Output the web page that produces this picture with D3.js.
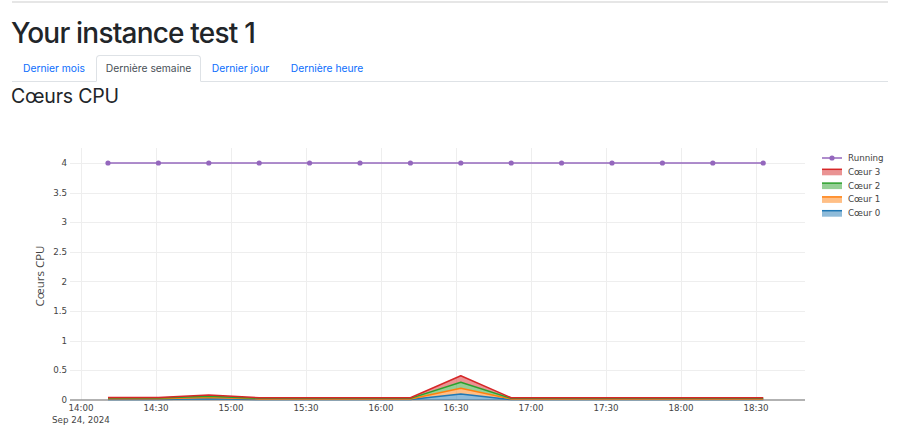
<!DOCTYPE html>
<html>
<head>
<meta charset="utf-8">
<script src="https://cdn.jsdelivr.net/npm/d3@7"></script>
<style>
  html, body { margin: 0; padding: 0; background: #fff; width: 900px; height: 432px; overflow: hidden; }
  body { position: relative; font-family: Inter, "Liberation Sans", Arial, sans-serif; color: #212529; }
  .hr { position: absolute; left: 12px; top: 1px; width: 876px; height: 0; border-top: 2px solid #e6e6e6; }
  h1 { position: absolute; left: 11px; top: 15px; margin: 0; font-size: 28px; font-weight: 500; line-height: 36px; letter-spacing: -0.8px; }
  .tabs { position: absolute; left: 12px; top: 55px; width: 876px; height: 26px; border-bottom: 1px solid #dee2e6; }
  .tab { position: absolute; top: 0; height: 26px; line-height: 27px; font-size: 10.3px; color: #0d6efd; text-align: center; box-sizing: border-box; }
  .tab.active { color: #495057; border: 1px solid #dee2e6; border-bottom: 1px solid #fff; border-radius: 4px 4px 0 0; background: #fff; height: 27px; line-height: 25px; }
  h3 { position: absolute; left: 11px; top: 83px; margin: 0; font-size: 19.5px; font-weight: 400; line-height: 26px; letter-spacing: -0.2px; }
  svg { position: absolute; left: 0; top: 0; }
</style>
</head>
<body>
<div class="hr"></div>
<h1>Your instance test 1</h1>
<div class="tabs" id="tabs"></div>
<h3>Cœurs CPU</h3>
<svg id="chart" width="900" height="432"></svg>
<script>
// ---- Data ----
const tabLabels = ["Dernier mois", "Dernière semaine", "Dernier jour", "Dernière heure"];
const activeTab = "Dernière semaine";

const times = ["2024-09-24T14:10:48", "2024-09-24T14:30:58", "2024-09-24T14:51:07", "2024-09-24T15:11:17",
               "2024-09-24T15:31:26", "2024-09-24T15:51:36", "2024-09-24T16:11:46", "2024-09-24T16:31:55",
               "2024-09-24T16:52:05", "2024-09-24T17:12:14", "2024-09-24T17:32:24", "2024-09-24T17:52:34",
               "2024-09-24T18:12:43", "2024-09-24T18:32:53"];
const running = [4, 4, 4, 4, 4, 4, 4, 4, 4, 4, 4, 4, 4, 4];
const coeur0 = [0.010, 0.010, 0.020, 0.008, 0.008, 0.008, 0.008, 0.100, 0.008, 0.008, 0.008, 0.008, 0.008, 0.008];
const coeur1 = [0.012, 0.012, 0.022, 0.010, 0.010, 0.010, 0.010, 0.100, 0.010, 0.010, 0.010, 0.010, 0.010, 0.010];
const coeur2 = [0.012, 0.012, 0.022, 0.010, 0.010, 0.010, 0.010, 0.100, 0.010, 0.010, 0.010, 0.010, 0.010, 0.010];
const coeur3 = [0.010, 0.010, 0.020, 0.010, 0.010, 0.010, 0.010, 0.110, 0.010, 0.010, 0.010, 0.010, 0.010, 0.010];
const coreSeries = [
  { name: "Cœur 0", values: coeur0, color: "#1f77b4" },
  { name: "Cœur 1", values: coeur1, color: "#ff7f0e" },
  { name: "Cœur 2", values: coeur2, color: "#2ca02c" },
  { name: "Cœur 3", values: coeur3, color: "#d62728" }
];
const runningColor = "#9467bd";
const yTicks = [0, 0.5, 1, 1.5, 2, 2.5, 3, 3.5, 4];
const xTickTimes = ["2024-09-24T14:00:00", "2024-09-24T14:30:00", "2024-09-24T15:00:00", "2024-09-24T15:30:00",
                    "2024-09-24T16:00:00", "2024-09-24T16:30:00", "2024-09-24T17:00:00", "2024-09-24T17:30:00",
                    "2024-09-24T18:00:00", "2024-09-24T18:30:00"];
const xDomain = ["2024-09-24T13:55:36", "2024-09-24T18:49:36"];
const yDomain = [0, 4.253];
const yTitle = "Cœurs CPU";

// ---- Tabs ----
const tabLeft = [0, 84, 189, 268];
const tabWidth = [84, 105, 79, 94];
d3.select("#tabs").selectAll("div").data(tabLabels).join("div")
  .attr("class", d => "tab" + (d === activeTab ? " active" : ""))
  .style("left", (d, i) => tabLeft[i] + "px")
  .style("width", (d, i) => tabWidth[i] + "px")
  .text(d => d);

// ---- Chart ----
const parse = d3.isoParse;
const plot = { left: 70, right: 805, top: 148, bottom: 400 };
const x = d3.scaleTime().domain(xDomain.map(parse)).range([plot.left, plot.right]);
const y = d3.scaleLinear().domain(yDomain).range([plot.bottom, plot.top]);
const svg = d3.select("#chart");
const tickFont = "'DejaVu Sans', Verdana, sans-serif";
const tickSize = 8.7;

// grid
svg.append("g").selectAll("line").data(yTicks.filter(v => v > 0)).join("line")
  .attr("x1", plot.left).attr("x2", plot.right)
  .attr("y1", d => Math.round(y(d)) + 0.5).attr("y2", d => Math.round(y(d)) + 0.5)
  .attr("stroke", "#eeeeee").attr("stroke-width", 1);
svg.append("g").selectAll("line").data(xTickTimes.map(parse)).join("line")
  .attr("x1", d => Math.round(x(d)) + 0.5).attr("x2", d => Math.round(x(d)) + 0.5)
  .attr("y1", plot.top).attr("y2", plot.bottom)
  .attr("stroke", "#eeeeee").attr("stroke-width", 1);

// stacked areas
const rows = times.map((t, i) => {
  const r = { t: parse(t) };
  coreSeries.forEach(s => r[s.name] = s.values[i]);
  return r;
});
const stack = d3.stack().keys(coreSeries.map(s => s.name));
const stacked = stack(rows);

// zeroline (axis)
svg.append("line").attr("x1", plot.left).attr("x2", plot.right)
  .attr("y1", y(0)).attr("y2", y(0)).attr("stroke", "#999").attr("stroke-width", 1.5);

const area = d3.area().x(d => x(d.data.t)).y0(d => y(d[0])).y1(d => y(d[1]));
const line = d3.line().x(d => x(d.data.t)).y(d => y(d[1]));
stacked.forEach((layer, k) => {
  svg.append("path").attr("d", area(layer)).attr("fill", coreSeries[k].color).attr("fill-opacity", 0.5);
});
stacked.forEach((layer, k) => {
  svg.append("path").attr("d", line(layer)).attr("fill", "none")
    .attr("stroke", coreSeries[k].color).attr("stroke-width", 1.5).attr("stroke-linejoin", "round");
});

// running line
const runData = times.map((t, i) => ({ t: parse(t), v: running[i] }));
svg.append("path").attr("d", d3.line().x(d => x(d.t)).y(d => y(d.v))(runData))
  .attr("fill", "none").attr("stroke", runningColor).attr("stroke-width", 1.5);
svg.append("g").selectAll("circle").data(runData).join("circle")
  .attr("cx", d => x(d.t)).attr("cy", d => y(d.v)).attr("r", 2.6).attr("fill", runningColor);

// y tick labels
svg.append("g").selectAll("text").data(yTicks).join("text")
  .attr("x", plot.left - 3).attr("y", d => y(d)).attr("dy", "0.35em")
  .attr("text-anchor", "end").attr("font-family", tickFont).attr("font-size", tickSize).attr("fill", "#444")
  .text(d => d3.format("")(d));

// x tick labels
const fmt = d3.timeFormat("%H:%M");
svg.append("g").selectAll("text").data(xTickTimes.map(parse)).join("text")
  .attr("x", d => x(d)).attr("y", plot.bottom + 10.5)
  .attr("text-anchor", "middle").attr("font-family", tickFont).attr("font-size", tickSize).attr("fill", "#444")
  .text(d => fmt(d));
svg.append("text").attr("x", x(parse(xTickTimes[0]))).attr("y", plot.bottom + 22.5)
  .attr("text-anchor", "middle").attr("font-family", tickFont).attr("font-size", tickSize).attr("fill", "#444")
  .text(d3.timeFormat("%b %-d, %Y")(parse(xTickTimes[0])));

// y title
svg.append("text").attr("transform", `translate(${44},${276}) rotate(-90)`)
  .attr("text-anchor", "middle").attr("font-family", "'Open Sans', 'DejaVu Sans', sans-serif").attr("font-size", 11.5)
  .attr("fill", "#444").text(yTitle);

// legend
const legendItems = [{ name: "Running", color: runningColor, type: "line" }]
  .concat(coreSeries.slice().reverse().map(s => ({ name: s.name, color: s.color, type: "area" })));
const lg = svg.append("g").attr("transform", "translate(822,158)");
const item = lg.selectAll("g").data(legendItems).join("g")
  .attr("transform", (d, i) => `translate(0,${i * 13.8})`);
item.filter(d => d.type === "line").each(function (d) {
  const g = d3.select(this);
  g.append("line").attr("x1", 0).attr("x2", 20).attr("y1", 0).attr("y2", 0).attr("stroke", d.color).attr("stroke-width", 1.5);
  g.append("circle").attr("cx", 10).attr("cy", 0).attr("r", 2.6).attr("fill", d.color);
});
item.filter(d => d.type === "area").each(function (d) {
  const g = d3.select(this);
  g.append("rect").attr("x", 0).attr("y", -2.5).attr("width", 20).attr("height", 6).attr("fill", d.color).attr("fill-opacity", 0.5);
  g.append("line").attr("x1", 0).attr("x2", 20).attr("y1", -2.5).attr("y2", -2.5).attr("stroke", d.color).attr("stroke-width", 1.5);
});
item.append("text").attr("x", 26).attr("y", 0).attr("dy", "0.35em")
  .attr("font-family", tickFont).attr("font-size", tickSize).attr("fill", "#444").text(d => d.name);
</script>
</body>
</html>
